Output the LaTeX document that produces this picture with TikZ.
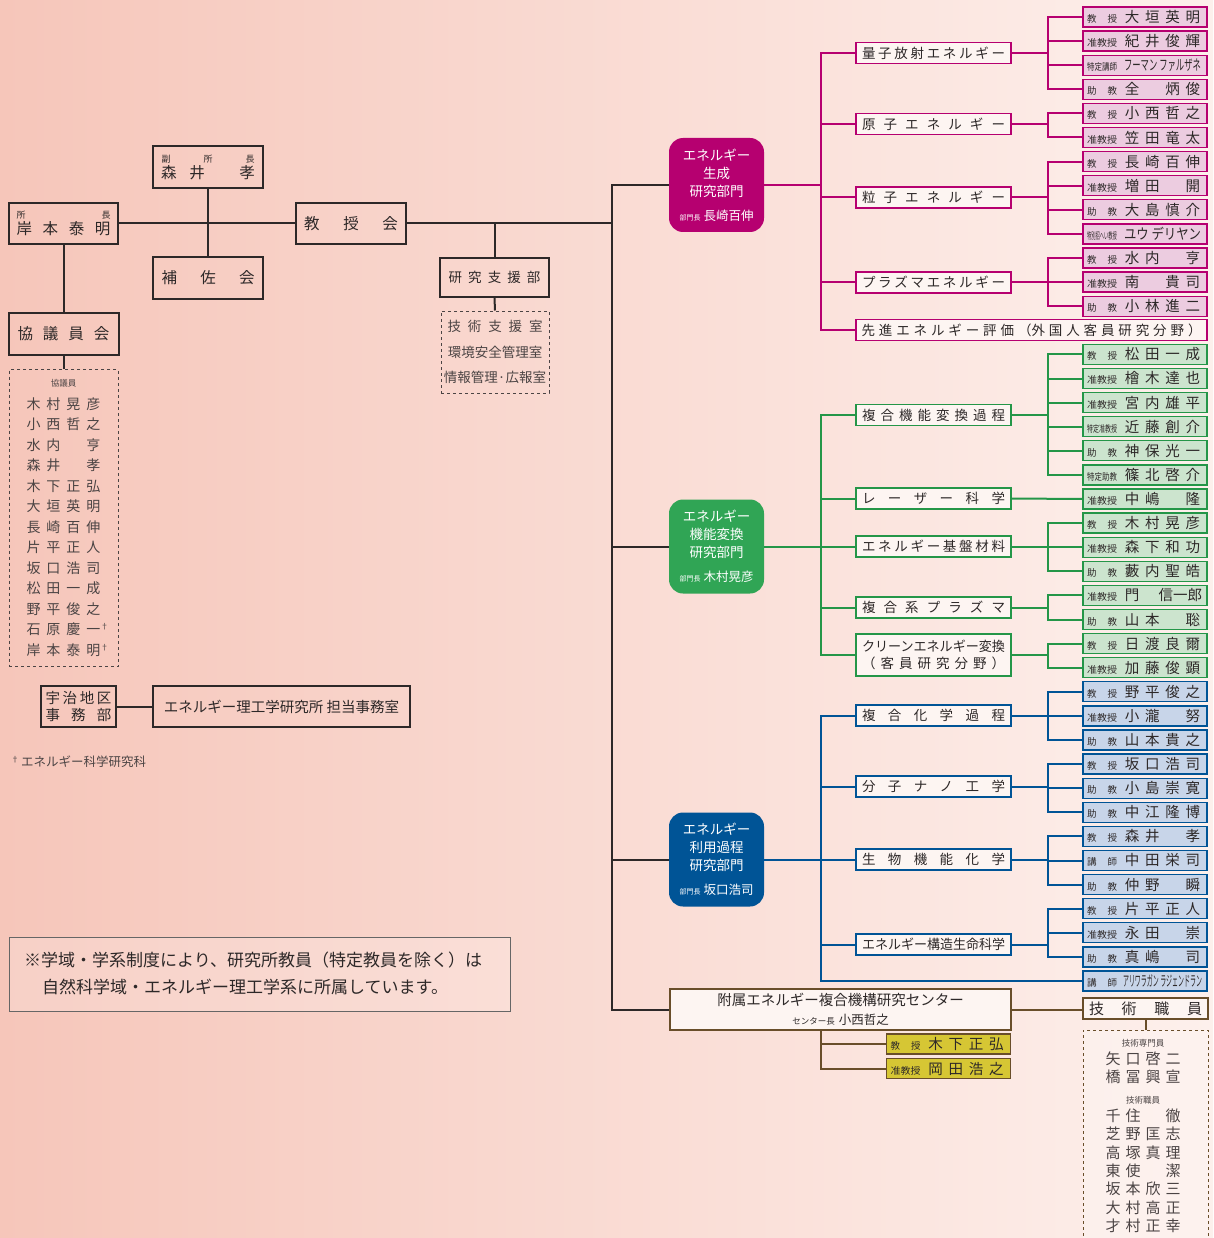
\documentclass[tikz,border=0pt]{standalone}
\usepackage{fontspec}
\usepackage{graphicx}
\setmainfont{Noto Sans CJK JP}
\usetikzlibrary{calc}
\definecolor{mag}{RGB}{182,0,112}
\definecolor{magf}{RGB}{236,204,224}
\definecolor{grn}{RGB}{36,150,72}
\definecolor{grnd}{RGB}{48,165,85}
\definecolor{grnf}{RGB}{204,228,206}
\definecolor{blu}{RGB}{0,84,150}
\definecolor{bluf}{RGB}{200,213,233}
\definecolor{brn}{RGB}{105,78,42}
\definecolor{yel}{RGB}{214,198,52}
\definecolor{ink}{RGB}{45,40,40}
\definecolor{gtx}{RGB}{75,68,68}
\definecolor{bgl}{RGB}{246,198,186}
\definecolor{bgr}{RGB}{253,240,236}
\definecolor{secf}{RGB}{253,245,242}
\newcommand\fsz[1]{\fontsize{#1}{#1}\selectfont}
\newcommand\sprd[2]{\makebox[#1][s]{#2}}
\newcommand\nmq[4]{\makebox[20.25pt]{#1}\makebox[20.25pt]{#2}\makebox[20.25pt]{#3}\makebox[20.25pt]{#4}}
\newcommand\slq[4]{\makebox[20pt]{#1}\makebox[20pt]{#2}\makebox[20pt]{#3}\makebox[20pt]{#4}}
\newcommand\tA[1]{\makebox[30pt][s]{\fsz{9.5}#1}}
\newcommand\tB[1]{\resizebox{30pt}{\height}{\fsz{9.5}#1}}
\newcommand\stfx[2]{\makebox[124pt][l]{\hspace{4pt}#1\hspace{5pt}\makebox[81pt]{\fsz{14.5}#2}}}
\begin{document}
\begin{tikzpicture}[x=1pt,y=-1pt,
  st/.style={draw=#1, line width=1.3pt, minimum width=124pt, minimum height=20pt, inner sep=0pt, text=ink},
  stm/.style={st=mag, fill=magf},
  stg/.style={st=grn, fill=grnf},
  stb/.style={st=blu, fill=bluf},
  sty/.style={st=brn, fill=yel},
  sec/.style={draw=#1, line width=1.8pt, fill=secf, minimum width=155pt, minimum height=21pt, inner sep=0pt, text=ink, font=\fsz{13.5}},
  dv/.style={fill=#1, rounded corners=14pt, minimum width=95pt, minimum height=94pt, inner sep=0pt, text=white, align=center, font=\fontsize{13.5}{18}\selectfont},
  bx/.style={draw=ink, line width=2pt, inner sep=0pt, text=ink},
  dbox/.style={draw=gtx, dashed, line width=1pt, inner sep=0pt, text=gtx},
  ln/.style={draw=ink, line width=2pt},
  ml/.style={draw=mag, line width=2pt},
  gl/.style={draw=grn, line width=2pt},
  bl/.style={draw=blu, line width=2pt},
  brl/.style={draw=brn, line width=2pt}]
\useasboundingbox (0,0) rectangle (1213,1238);
\shade[left color=bgl,right color=bgr] (0,0) rectangle (1213,1238);

% ---------- top-left organisation ----------
\node[bx, minimum width=109pt, minimum height=41pt, align=center, font=\fontsize{15.5}{16}\selectfont] (dir) at (63.5,223.5)
  {{\fsz{9}\makebox[94pt]{所\hfill 長}}\\\sprd{94pt}{岸 本 泰 明}};
\node[bx, minimum width=110pt, minimum height=42pt, align=center, font=\fontsize{15.5}{16}\selectfont] (vice) at (208,167)
  {{\fsz{9}\sprd{93pt}{副 所 長}}\\\makebox[94pt]{森\hspace{13pt}井\hfill 孝}};
\node[bx, minimum width=110pt, minimum height=42pt, font=\fsz{15.5}] (hosa) at (208,278) {\sprd{93pt}{補 佐 会}};
\node[bx, minimum width=110pt, minimum height=41pt, font=\fsz{15.5}] (kyoju) at (351,223.5) {\sprd{94pt}{教 授 会}};
\node[bx, minimum width=110pt, minimum height=42pt, font=\fsz{15.5}] (kyogi) at (63.5,334) {\sprd{92pt}{協 議 員 会}};
\node[dbox, minimum width=109pt, minimum height=297pt, align=center, font=\fontsize{14}{20.5}\selectfont] (kyogilist) at (63.5,518)
  {{\fsz{8.5}協議員}\\[2pt]
   \slq{木}{村}{晃}{彦}\\\slq{小}{西}{哲}{之}\\\slq{水}{内}{}{亨}\\\slq{森}{井}{}{孝}\\
   \slq{木}{下}{正}{弘}\\\slq{大}{垣}{英}{明}\\\slq{長}{崎}{百}{伸}\\\slq{片}{平}{正}{人}\\
   \slq{坂}{口}{浩}{司}\\\slq{松}{田}{一}{成}\\\slq{野}{平}{俊}{之}\\
   \slq{石}{原}{慶}{一\rlap{\raisebox{5pt}{\fsz{8}†}}}\\\slq{岸}{本}{泰}{明\rlap{\raisebox{5pt}{\fsz{8}†}}}};
\node[bx, minimum width=109pt, minimum height=39pt, font=\fsz{13.5}] (shien) at (494.5,277.5) {\sprd{92pt}{研 究 支 援 部}};
\node[dbox, minimum width=108pt, minimum height=82pt, align=center, font=\fontsize{13.5}{25.5}\selectfont] (shienlist) at (495,352)
  {\sprd{95pt}{技 術 支 援 室}\\環境安全管理室\\情報管理·広報室};

\node[bx, minimum width=75pt, minimum height=41pt, align=center, font=\fontsize{14.5}{17}\selectfont] (uji) at (78.5,706.5)
  {\sprd{66pt}{宇 治 地 区}\\\sprd{66pt}{事 務 部}};
\node[bx, minimum width=257pt, minimum height=41pt, font=\fsz{14.5}] (tanto) at (281.5,706.5) {エネルギー理工学研究所 担当事務室};
\node[anchor=base west, inner sep=0pt, text=gtx] (foot) at (11,766) {\raisebox{4pt}{\fsz{8}†}\hspace{2pt}{\fsz{12.5}エネルギー科学研究科}};

\node[draw=gray!80!black, line width=1pt, fill=white, fill opacity=0.18, minimum width=501pt, minimum height=74pt, inner sep=0pt] (note) at (259.5,974) {};
\node[anchor=base west, inner sep=0pt, text=ink, font=\fsz{17}] (note1) at (24,966) {※学域・学系制度により、研究所教員（特定教員を除く）は};
\node[anchor=base west, inner sep=0pt, text=ink, font=\fsz{17}] (note2) at (42,993) {自然科学域・エネルギー理工学系に所属しています。};

% ---------- divisions ----------
\node[dv=mag] (d1) at (716.5,185) {エネルギー\\生成\\研究部門\\[6pt]{\fsz{7}部門長}\hspace{3pt}{\fsz{12.5}長崎百伸}};
\node[dv=grnd] (d2) at (716.5,546.5) {エネルギー\\機能変換\\研究部門\\[6pt]{\fsz{7}部門長}\hspace{3pt}{\fsz{12.5}木村晃彦}};
\node[dv=blu] (d3) at (716.5,859.5) {エネルギー\\利用過程\\研究部門\\[6pt]{\fsz{7}部門長}\hspace{3pt}{\fsz{12.5}坂口浩司}};

\node[draw=brn, line width=2pt, fill=secf, minimum width=341pt, minimum height=41pt, inner sep=0pt, align=center, text=ink, font=\fontsize{14.5}{19}\selectfont] (ctr) at (840.5,1009.5)
  {附属エネルギー複合機構研究センター\\{\fsz{8.5}センター長}\hspace{4pt}{\fsz{12.5}小西哲之}};
\node[sty] (c1) at (948.5,1044) {\stfx{\tA{教 授}}{\nmq{木}{下}{正}{弘}}};
\node[sty] (c2) at (948.5,1068.5) {\stfx{\tB{准教授}}{\nmq{岡}{田}{浩}{之}}};
\node[draw=brn, line width=2pt, fill=secf, minimum width=125pt, minimum height=21pt, inner sep=0pt, text=ink, font=\fsz{15}] (gij) at (1145.5,1008.5) {\sprd{113pt}{技 術 職 員}};
\node[draw=brn, dashed, line width=1pt, fill=secf, fill opacity=0.5, minimum width=125pt, minimum height=225pt, inner sep=0pt] (gslist) at (1145.5,1142.5) {};
\node[anchor=north, inner sep=0pt, align=center, text=gtx, font=\fontsize{15}{18.3}\selectfont] (gstxt) at (1143,1039)
  {{\fsz{8.5}技術専門員}\\\slq{矢}{口}{啓}{二}\\\slq{橋}{冨}{興}{宣}\\[2pt]{\fsz{8.5}技術職員}\\
   \slq{千}{住}{}{徹}\\\slq{芝}{野}{匡}{志}\\\slq{高}{塚}{真}{理}\\\slq{東}{使}{}{潔}\\
   \slq{坂}{本}{欣}{三}\\\slq{大}{村}{高}{正}\\\slq{才}{村}{正}{幸}};

% ---------- sections ----------
\node[sec=mag] (q1) at (933.5,53) {\sprd{143pt}{量 子 放 射 エ ネ ル ギ ー}};
\node[sec=mag] (q2) at (933.5,124) {\sprd{143pt}{原 子 エ ネ ル ギ ー}};
\node[sec=mag] (q3) at (933.5,197.5) {\sprd{143pt}{粒 子 エ ネ ル ギ ー}};
\node[sec=mag] (q4) at (933.5,282.5) {\sprd{143pt}{プ ラ ズ マ エ ネ ル ギ ー}};
\node[sec=mag, minimum width=351pt] (sen) at (1031.5,330) {\sprd{340pt}{先 進 エ ネ ル ギ ー 評 価 （外 国 人 客 員 研 究 分 野 ）}};

\node[sec=grn] (g1) at (933.5,415) {\sprd{143pt}{複 合 機 能 変 換 過 程}};
\node[sec=grn] (g2) at (933.5,498.5) {\sprd{143pt}{レ ー ザ ー 科 学}};
\node[sec=grn] (g3) at (933.5,546.5) {\sprd{143pt}{エ ネ ル ギ ー 基 盤 材 料}};
\node[sec=grn] (g4) at (933.5,607.5) {\sprd{143pt}{複 合 系 プ ラ ズ マ}};
\node[sec=grn, minimum height=42pt, align=center, font=\fontsize{13.5}{17}\selectfont] (g5) at (933.5,655) {\resizebox{143pt}{\height}{クリーンエネルギー変換}\\\sprd{143pt}{（ 客 員 研 究 分 野 ）}};

\node[sec=blu] (b1) at (933.5,715.5) {\sprd{143pt}{複 合 化 学 過 程}};
\node[sec=blu] (b2) at (933.5,786.5) {\sprd{143pt}{分 子 ナ ノ 工 学}};
\node[sec=blu] (b3) at (933.5,859.5) {\sprd{143pt}{生 物 機 能 化 学}};
\node[sec=blu] (b4) at (933.5,944.5) {\resizebox{143pt}{\height}{エネルギー構造生命科学}};

% ---------- staff ----------
\node[stm] (s0) at (1145,17.0) {\stfx{\tA{教 授}}{\nmq{大}{垣}{英}{明}}};
\node[stm] (s1) at (1145,41.1) {\stfx{\tB{准教授}}{\nmq{紀}{井}{俊}{輝}}};
\node[stm] (s2) at (1145,65.2) {\stfx{\tB{特定講師}}{\resizebox{77pt}{\height}{フーマン ファルザネ}}};
\node[stm] (s3) at (1145,89.3) {\stfx{\tA{助 教}}{\nmq{全}{}{炳}{俊}}};
\node[stm] (s4) at (1145,113.4) {\stfx{\tA{教 授}}{\nmq{小}{西}{哲}{之}}};
\node[stm] (s5) at (1145,137.5) {\stfx{\tB{准教授}}{\nmq{笠}{田}{竜}{太}}};
\node[stm] (s6) at (1145,161.6) {\stfx{\tA{教 授}}{\nmq{長}{崎}{百}{伸}}};
\node[stm] (s7) at (1145,185.7) {\stfx{\tB{准教授}}{\nmq{増}{田}{}{開}}};
\node[stm] (s8) at (1145,209.8) {\stfx{\tA{助 教}}{\nmq{大}{島}{慎}{介}}};
\node[stm] (s9) at (1145,233.9) {\stfx{\tB{特別招へい教授}}{\resizebox{77pt}{\height}{ユウ デリヤン}}};
\node[stm] (s10) at (1145,258.0) {\stfx{\tA{教 授}}{\nmq{水}{内}{}{亨}}};
\node[stm] (s11) at (1145,282.1) {\stfx{\tB{准教授}}{\nmq{南}{}{貴}{司}}};
\node[stm] (s12) at (1145,306.2) {\stfx{\tA{助 教}}{\nmq{小}{林}{進}{二}}};

\node[stg] (s14) at (1145,354.4) {\stfx{\tA{教 授}}{\nmq{松}{田}{一}{成}}};
\node[stg] (s15) at (1145,378.5) {\stfx{\tB{准教授}}{\nmq{檜}{木}{達}{也}}};
\node[stg] (s16) at (1145,402.6) {\stfx{\tB{准教授}}{\nmq{宮}{内}{雄}{平}}};
\node[stg] (s17) at (1145,426.7) {\stfx{\tB{特定准教授}}{\nmq{近}{藤}{創}{介}}};
\node[stg] (s18) at (1145,450.8) {\stfx{\tA{助 教}}{\nmq{神}{保}{光}{一}}};
\node[stg] (s19) at (1145,474.9) {\stfx{\tB{特定助教}}{\nmq{篠}{北}{啓}{介}}};
\node[stg] (s20) at (1145,499.0) {\stfx{\tB{准教授}}{\nmq{中}{嶋}{}{隆}}};
\node[stg] (s21) at (1145,523.1) {\stfx{\tA{教 授}}{\nmq{木}{村}{晃}{彦}}};
\node[stg] (s22) at (1145,547.2) {\stfx{\tB{准教授}}{\nmq{森}{下}{和}{功}}};
\node[stg] (s23) at (1145,571.3) {\stfx{\tA{助 教}}{\nmq{藪}{内}{聖}{皓}}};
\node[stg] (s24) at (1145,595.4) {\stfx{\tB{准教授}}{\makebox[20.25pt]{門}\hfill 信一郎\hspace{1pt}}};
\node[stg] (s25) at (1145,619.5) {\stfx{\tA{助 教}}{\nmq{山}{本}{}{聡}}};
\node[stg] (s26) at (1145,643.6) {\stfx{\tA{教 授}}{\nmq{日}{渡}{良}{爾}}};
\node[stg] (s27) at (1145,667.7) {\stfx{\tB{准教授}}{\nmq{加}{藤}{俊}{顕}}};

\node[stb] (s28) at (1145,691.8) {\stfx{\tA{教 授}}{\nmq{野}{平}{俊}{之}}};
\node[stb] (s29) at (1145,715.9) {\stfx{\tB{准教授}}{\nmq{小}{瀧}{}{努}}};
\node[stb] (s30) at (1145,740.0) {\stfx{\tA{助 教}}{\nmq{山}{本}{貴}{之}}};
\node[stb] (s31) at (1145,764.1) {\stfx{\tA{教 授}}{\nmq{坂}{口}{浩}{司}}};
\node[stb] (s32) at (1145,788.2) {\stfx{\tA{助 教}}{\nmq{小}{島}{崇}{寛}}};
\node[stb] (s33) at (1145,812.3) {\stfx{\tA{助 教}}{\nmq{中}{江}{隆}{博}}};
\node[stb] (s34) at (1145,836.4) {\stfx{\tA{教 授}}{\nmq{森}{井}{}{孝}}};
\node[stb] (s35) at (1145,860.5) {\stfx{\tA{講 師}}{\nmq{中}{田}{栄}{司}}};
\node[stb] (s36) at (1145,884.6) {\stfx{\tA{助 教}}{\nmq{仲}{野}{}{瞬}}};
\node[stb] (s37) at (1145,908.7) {\stfx{\tA{教 授}}{\nmq{片}{平}{正}{人}}};
\node[stb] (s38) at (1145,932.8) {\stfx{\tB{准教授}}{\nmq{永}{田}{}{崇}}};
\node[stb] (s39) at (1145,956.9) {\stfx{\tA{助 教}}{\nmq{真}{嶋}{}{司}}};
\node[stb] (s40) at (1145,981.0) {\stfx{\tA{講 師}}{\resizebox{79pt}{\height}{アリワラガン ラジェンドラン}}};

% ---------- connectors ----------
\draw[ln] (dir.east) -- (kyoju.west);
\draw[ln] (vice.south) -- (hosa.north);
\draw[ln] (dir.south) -- (kyogi.north);
\draw[ln] (kyogi.south) -- (kyogilist.north);
\draw[ln] (kyoju.east) -- ++(205,0) coordinate (trk);
\draw[ln] (shien.north) -- (shien.north |- kyoju.east);
\draw[ln] (shien.south) -- (shienlist.north);
\draw[ln] (uji.east) -- (tanto.west);
\draw[ln] (trk) |- (d1.west);
\draw[ln] (trk) |- (d2.west);
\draw[ln] (trk) |- (d3.west);
\draw[ln] (trk) |- (ctr.west);

\foreach \t in {q1,q2,q3,q4,sen} \draw[ml] (d1.east) -- ++(57,0) |- (\t.west);
\foreach \t in {g1,g2,g3,g4,g5} \draw[gl] (d2.east) -- ++(57,0) |- (\t.west);
\foreach \t in {b1,b2,b3,b4,s40} \draw[bl] (d3.east) -- ++(57,0) |- (\t.west);

\foreach \s in {0,1,2,3} \draw[ml] (q1.east) -- ++(36,0) |- (s\s.west);
\foreach \s in {4,5} \draw[ml] (q2.east) -- ++(36,0) |- (s\s.west);
\foreach \s in {6,7,8,9} \draw[ml] (q3.east) -- ++(36,0) |- (s\s.west);
\foreach \s in {10,11,12} \draw[ml] (q4.east) -- ++(36,0) |- (s\s.west);
\foreach \s in {14,15,16,17,18,19} \draw[gl] (g1.east) -- ++(36,0) |- (s\s.west);
\draw[gl] (g2.east) -- (s20.west);
\foreach \s in {21,22,23} \draw[gl] (g3.east) -- ++(36,0) |- (s\s.west);
\foreach \s in {24,25} \draw[gl] (g4.east) -- ++(36,0) |- (s\s.west);
\foreach \s in {26,27} \draw[gl] (g5.east) -- ++(36,0) |- (s\s.west);
\foreach \s in {28,29,30} \draw[bl] (b1.east) -- ++(36,0) |- (s\s.west);
\foreach \s in {31,32,33} \draw[bl] (b2.east) -- ++(36,0) |- (s\s.west);
\foreach \s in {34,35,36} \draw[bl] (b3.east) -- ++(36,0) |- (s\s.west);
\foreach \s in {37,38,39} \draw[bl] (b4.east) -- ++(36,0) |- (s\s.west);

\draw[brl] (ctr.east) -- (ctr.east -| gij.west);
\draw[brl] ([xshift=-19.5pt]ctr.south) |- (c1.west);
\draw[brl] ([xshift=-19.5pt]ctr.south) |- (c2.west);
\draw[brl] ([xshift=0.5pt]gij.south) -- ([xshift=0.5pt]gslist.north);
\end{tikzpicture}
\end{document}
